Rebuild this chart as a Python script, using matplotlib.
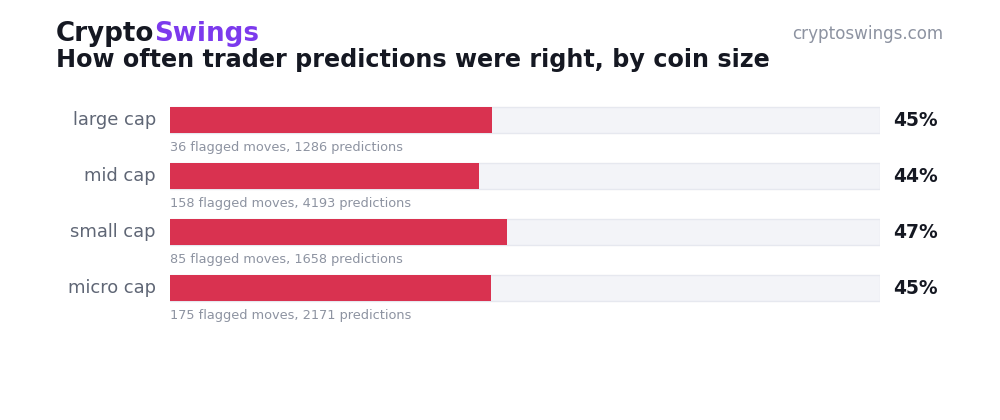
import matplotlib
matplotlib.use("Agg")
import matplotlib.pyplot as plt

categories = ["large cap", "mid cap", "small cap", "micro cap"]
accuracy = [45.3, 43.5, 47.4, 45.2]
flagged = [36, 158, 85, 175]
predictions = [1286, 4193, 1658, 2171]

W, H = 1000, 420
fig = plt.figure(figsize=(W / 100, H / 100), dpi=100)
fig.patch.set_facecolor("white")

# axes: x pixels 170..880, y pixels 92..316
ax = fig.add_axes([170 / W, 1 - 316 / H, 710 / W, 224 / H])
ax.set_xlim(0, 100)
ax.set_ylim(len(categories) - 0.5, -0.5)
ax.axis("off")

bar_h = 26 / 56
for i, (cat, v, f, p) in enumerate(zip(categories, accuracy, flagged, predictions)):
    ax.barh(i, 100, height=bar_h, color="#f3f4f8", edgecolor="#e6e8ef", linewidth=1.0, zorder=1)
    ax.barh(i, v, height=bar_h, color="#d93250", linewidth=0, zorder=2)
    ax.text(-2.0, i, cat, ha="right", va="center", fontsize=12.9, color="#5f6675")
    ax.text(101.9, i, f"{v:.0f}%", ha="left", va="center", fontsize=13.4,
            fontweight="bold", color="#151822")
    ax.text(0, i + 0.5, f"{f} flagged moves, {p} predictions", ha="left", va="center",
            fontsize=9.3, color="#8d93a1")

# title
r = fig.canvas.get_renderer()
x0 = 56 / W
yb = 1 - 41 / H
tfull = fig.text(x0, yb, "CryptoSwings", fontsize=18.8, fontweight="bold",
                 color="#151822", ha="left", va="baseline")
tsw = fig.text(0, yb, "Swings", fontsize=18.8, fontweight="bold",
               color="#7c3aed", ha="left", va="baseline")
wf = tfull.get_window_extent(renderer=r).width
ws = tsw.get_window_extent(renderer=r).width
tfull.set_text("Crypto")
tsw.set_x(x0 + (wf - ws) / W)

fig.text(56 / W, 1 - 67 / H, "How often trader predictions were right, by coin size",
         fontsize=17.2, fontweight="bold", color="#151822", ha="left", va="baseline")
fig.text(943 / W, 1 - 39 / H, "cryptoswings.com", fontsize=12.1, color="#8d93a1",
         ha="right", va="baseline")

fig.savefig("out.png", dpi=100, facecolor="white")
